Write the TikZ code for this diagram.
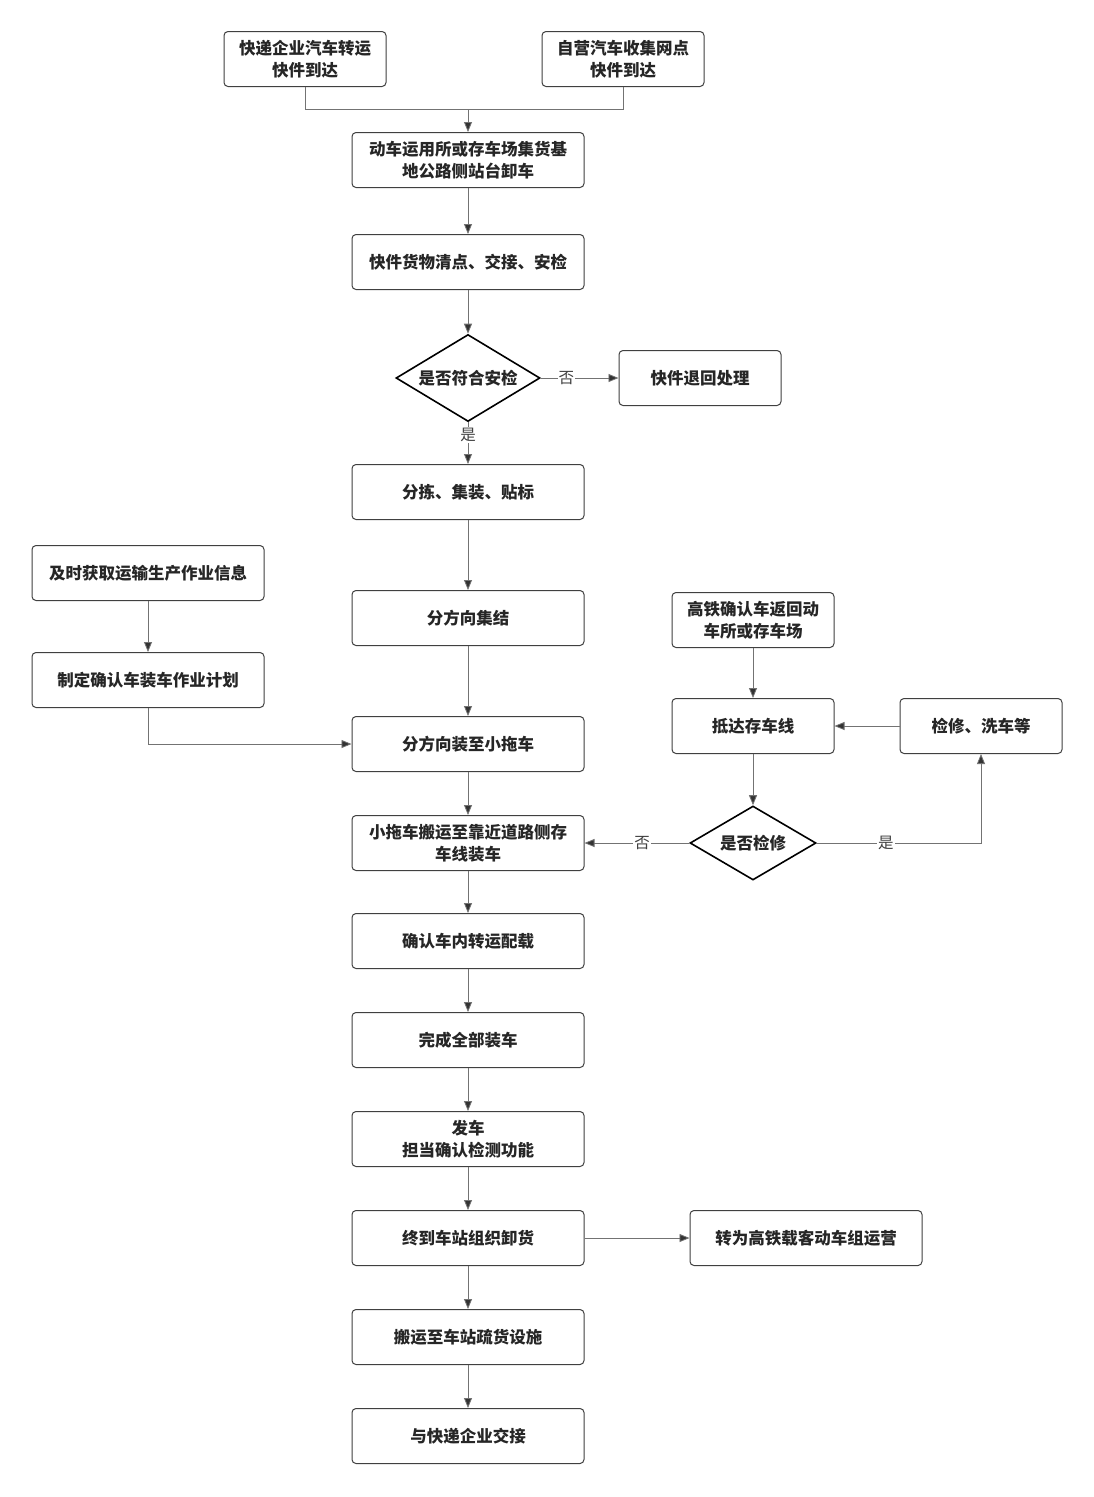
\documentclass[tikz,border=0pt]{standalone}
\usepackage{fontspec}
\setmainfont{Noto Sans CJK SC}
\usetikzlibrary{arrows.meta,shapes.geometric}
\begin{document}
\begin{tikzpicture}[
  x=1pt, y=-1pt,
  stepbox/.style={shape=rectangle, rounded corners=4pt, draw=black!75,
    line width=1pt, align=center, font=\fontsize{16.5}{22}\selectfont\bfseries,
    text=black!85, minimum height=55pt, inner sep=2pt},
  wide/.style={stepbox, minimum width=232pt},
  short/.style={stepbox, minimum width=162pt},
  decide/.style={shape=diamond, draw=black, line width=1.6pt,
    font=\fontsize{16.5}{22}\selectfont\bfseries, text=black!85, inner sep=1pt},
  line/.style={draw=black!55, line width=0.8pt},
  arr/.style={line, -{Triangle[length=10pt,width=8pt,fill=black!80]}},
  tag/.style={fill=white, inner sep=1pt, font=\fontsize{15.5}{18}\selectfont, text=black!75}
  ]
  \useasboundingbox (0,0) rectangle (1094,1497);
  \fill[white] (0,0) rectangle (1094,1497);
  % arrivals
  \node[short] (arrive1) at (305,59) {快递企业汽车转运\\快件到达};
  \node[short] (arrive2) at (623,59) {自营汽车收集网点\\快件到达};
  \coordinate (merge) at (468,109);
  % main column
  \node[wide] (unload) at (468,160) {动车运用所或存车场集货基\\地公路侧站台卸车};
  \node[wide] (check) at (468,262) {快件货物清点、交接、安检};
  \node[decide, minimum width=144pt, minimum height=87pt, aspect=1.66] (safe) at (468,378) {是否符合安检};
  \node[short] (reject) at (700,378) {快件退回处理};
  \node[wide] (sort) at (468,492) {分拣、集装、贴标};
  \node[wide] (gather) at (468,618) {分方向集结};
  \node[wide] (load) at (468,744) {分方向装至小拖车};
  \node[wide] (tow) at (468,843) {小拖车搬运至靠近道路侧存\\车线装车};
  \node[wide] (confirm) at (468,941) {确认车内转运配载};
  \node[wide] (finish) at (468,1040) {完成全部装车};
  \node[wide] (depart) at (468,1139) {发车\\担当确认检测功能};
  \node[wide] (terminal) at (468,1238) {终到车站组织卸货};
  \node[wide] (carry) at (468,1337) {搬运至车站疏货设施};
  \node[wide] (handover) at (468,1436) {与快递企业交接};
  % left branch
  \node[wide] (info) at (148,573) {及时获取运输生产作业信息};
  \node[wide] (plan) at (148,680) {制定确认车装车作业计划};
  % right branch
  \node[short] (back) at (753,620) {高铁确认车返回动\\车所或存车场};
  \node[short] (track) at (753,726) {抵达存车线};
  \node[short] (repair) at (981,726) {检修、洗车等};
  \node[decide, minimum width=126pt, minimum height=74pt, aspect=1.7] (needfix) at (753,843) {是否检修};
  \node[wide] (convert) at (806,1238) {转为高铁载客动车组运营};
  % connectors
  \draw[line] (arrive1.south) |- (merge);
  \draw[line] (arrive2.south) |- (merge);
  \draw[arr] (merge) -- (unload.north);
  \draw[arr] (unload) -- (check);
  \draw[arr] (check) -- (safe);
  \draw[arr] (safe) -- node[tag, pos=0.3] {是} (sort);
  \draw[arr] (safe) -- node[tag, pos=0.33] {否} (reject);
  \draw[arr] (sort) -- (gather);
  \draw[arr] (gather) -- (load);
  \draw[arr] (load) -- (tow);
  \draw[arr] (tow) -- (confirm);
  \draw[arr] (confirm) -- (finish);
  \draw[arr] (finish) -- (depart);
  \draw[arr] (depart) -- (terminal);
  \draw[arr] (terminal) -- (carry);
  \draw[arr] (carry) -- (handover);
  \draw[arr] (terminal) -- (convert);
  \draw[arr] (info) -- (plan);
  \draw[arr] (plan.south) |- (load.west);
  \draw[arr] (back) -- (track);
  \draw[arr] (track) -- (needfix);
  \draw[arr] (needfix) -- node[tag, pos=0.45] {否} (tow);
  \draw[arr] (needfix.east) -| node[tag, pos=0.21] {是} (repair.south);
  \draw[arr] (repair) -- (track);
\end{tikzpicture}
\end{document}
